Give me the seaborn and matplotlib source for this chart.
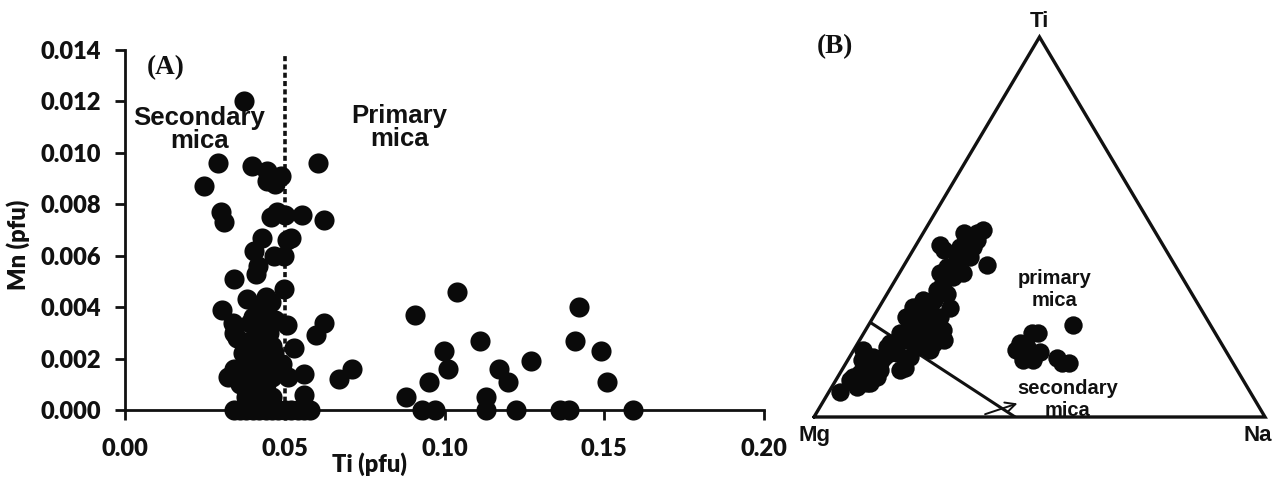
import numpy as np
import pandas as pd
import seaborn as sns
import matplotlib.pyplot as plt
from matplotlib.ticker import FormatStrFormatter

sns.set_theme(style='white')
plt.rcParams['font.family'] = ['Lato', 'DejaVu Sans']
plt.rcParams['font.weight'] = 'bold'

# panel A: Ti vs Mn (pfu)
ti_pfu = [0.0372, 0.029, 0.0246, 0.0399, 0.0446, 0.0446, 0.0488, 0.0470, 0.0603, 0.030,
          0.031, 0.0477, 0.0456, 0.0500, 0.0555, 0.0622, 0.043, 0.0519, 0.0404, 0.0466,
          0.0508, 0.0497, 0.0341, 0.041, 0.0415, 0.0497, 0.0383, 0.0456, 0.044, 0.0305,
          0.0337, 0.034, 0.039, 0.0415, 0.0470, 0.0508, 0.0622, 0.0597, 0.0352, 0.041,
          0.0529, 0.037, 0.0383, 0.043, 0.0466, 0.0321, 0.034, 0.040, 0.042, 0.049,
          0.036, 0.047, 0.051, 0.056, 0.0669, 0.0711, 0.056, 0.042, 0.046, 0.038,
          0.044, 0.040, 0.045, 0.043, 0.046, 0.038, 0.040, 0.042, 0.044, 0.041,
          0.039, 0.044, 0.040, 0.042, 0.046, 0.037, 0.039, 0.043,
          0.034, 0.036, 0.038, 0.040, 0.042, 0.044, 0.046, 0.048, 0.050, 0.052,
          0.054, 0.056, 0.058,
          0.0909, 0.104, 0.142, 0.111, 0.141, 0.0997, 0.149, 0.127, 0.101, 0.117,
          0.120, 0.151, 0.095, 0.088, 0.113,
          0.093, 0.097, 0.113, 0.1225, 0.136, 0.139, 0.159]
mn_pfu = [0.0120, 0.0096, 0.0087, 0.0095, 0.0093, 0.0089, 0.0091, 0.0088, 0.0096, 0.0077,
          0.0073, 0.0077, 0.0075, 0.0076, 0.0076, 0.0074, 0.0067, 0.0067, 0.0062, 0.0060,
          0.0066, 0.0060, 0.0051, 0.0053, 0.0056, 0.0047, 0.0043, 0.0042, 0.0044, 0.0039,
          0.0034, 0.0030, 0.0034, 0.0032, 0.0035, 0.0033, 0.0034, 0.0029, 0.0028, 0.0027,
          0.0024, 0.0022, 0.0022, 0.0025, 0.0022, 0.0013, 0.0016, 0.0015, 0.0016, 0.0018,
          0.0010, 0.0017, 0.0013, 0.0014, 0.0012, 0.0016, 0.0006, 0.0007, 0.0005, 0.0005,
          0.0010, 0.0020, 0.0030, 0.0038, 0.0013, 0.0008, 0.0003, 0.0012, 0.0019, 0.0023,
          0.0027, 0.0028, 0.0036, 0.0041, 0.0025, 0.0017, 0.0012, 0.0003,
          0.0, 0.0, 0.0, 0.0, 0.0, 0.0, 0.0, 0.0, 0.0, 0.0,
          0.0, 0.0, 0.0,
          0.0037, 0.0046, 0.0040, 0.0027, 0.0027, 0.0023, 0.0023, 0.0019, 0.0016, 0.0016,
          0.0011, 0.0011, 0.0011, 0.0005, 0.0005,
          0.0, 0.0, 0.0, 0.0, 0.0, 0.0, 0.0]
ti_boundary = 0.05

# panel B: ternary Mg-Ti-Na (%), Mg = 100 - Ti - Na
tern_ti = [6.7, 8.0, 8.9, 11.5, 13.2, 12.4, 15.0, 15.9, 16.8, 12.4, 12.8, 18.5, 19.4, 20.3,
           22.0, 21.1, 22.9, 21.1, 20.3, 25.5, 25.5, 24.6, 26.4, 29.0, 30.8, 28.2, 26.4,
           22.9, 28.6, 33.4, 35.2, 37.8, 36.9, 37.8, 39.6, 41.3, 42.2, 44.8, 46.6, 48.3,
           49.2, 43.9, 45.3, 44.8, 40.0, 17.6, 18.5, 15.9, 8.9, 14.1, 16.8, 10.6, 9.7,
           10.6, 17.6, 27.3, 30.8, 32.5, 22.9, 22.0, 19.4, 15.9, 46.6, 48.3, 43.1, 24.6,
           21.1, 19.4,
           22.0, 22.0, 19.4, 17.6, 16.8, 15.9, 17.2, 15.0, 15.0, 15.4, 14.1, 14.1, 24.2, 18.5]
tern_na = [2.5, 5.5, 7.2, 4.5, 5.8, 8.4, 3.1, 5.2, 8.5, 12.9, 13.8, 6.9, 8.6, 10.4,
           11.0, 13.7, 14.3, 16.7, 18.6, 10.0, 12.2, 14.9, 7.3, 7.5, 8.8, 11.6, 14.7,
           17.2, 15.9, 10.5, 11.1, 9.0, 12.4, 14.2, 9.6, 11.0, 13.5, 10.0, 10.6, 12.0,
           12.9, 6.8, 5.3, 12.9, 18.3, 16.9, 13.6, 13.3, 8.0, 7.6, 9.9, 3.4, 3.1,
           8.6, 2.1, 9.9, 11.1, 13.2, 9.9, 8.1, 7.2, 7.5, 12.8, 9.0, 12.3, 11.9,
           12.3, 16.8,
           37.3, 38.7, 36.0, 36.1, 38.0, 40.0, 41.5, 38.9, 41.1, 46.1, 47.9, 49.4, 45.4, 38.0]
vertex_ti = [0, 100, 0, 0]
vertex_na = [0, 0, 100, 0]
divider_ti = [24.8, 0.0]
divider_na = [0.2, 44.6]
arrow_ti = [0.5, 3.8]
arrow_na = [37.1, 43.8]


def tern_xy(ti, na):
    ti = np.asarray(ti, dtype=float) / 100
    na = np.asarray(na, dtype=float) / 100
    return na + ti / 2, ti * np.sqrt(3) / 2


fig = plt.figure(figsize=(12.72, 4.79), dpi=100)

# ---------- panel A
ax = fig.add_axes([125 / 1272, 69 / 479, 639 / 1272, 360 / 479])
df_a = pd.DataFrame({'Ti': ti_pfu, 'Mn': mn_pfu})
sns.scatterplot(data=df_a, x='Ti', y='Mn', ax=ax, color='#0a0a0a', s=210,
                edgecolor='#0a0a0a', linewidth=0, clip_on=False, zorder=3)
ax.plot([ti_boundary, ti_boundary], [0, 0.0139], color='#111111', lw=2.6,
        linestyle=(0, (1.4, 0.9)), zorder=2)
ax.set_xlim(0, 0.2)
ax.set_ylim(0, 0.014)
ax.set_xticks([0, 0.05, 0.10, 0.15, 0.20])
ax.set_yticks(np.arange(0, 0.0141, 0.002))
ax.xaxis.set_major_formatter(FormatStrFormatter('%.2f'))
ax.yaxis.set_major_formatter(FormatStrFormatter('%.3f'))
for side in ['top', 'right']:
    ax.spines[side].set_visible(False)
for side in ['left', 'bottom']:
    ax.spines[side].set_color('#111111')
    ax.spines[side].set_linewidth(2.0)
ax.tick_params(axis='both', which='major', direction='out', length=7, width=2,
               color='#111111', labelsize=17, labelcolor='#111111', bottom=True, left=True)
ax.tick_params(axis='x', pad=13)
ax.tick_params(axis='y', pad=10)
for lab in ax.get_xticklabels() + ax.get_yticklabels():
    lab.set_fontweight('heavy')
ax.set_xlabel('Ti (pfu)', fontsize=17, fontweight='heavy', color='#111111')
ax.set_ylabel('Mn (pfu)', fontsize=17, fontweight='heavy', color='#111111')
ax.xaxis.set_label_coords(0.383, -0.118)
ax.yaxis.set_label_coords(-0.148, 0.46)
ax.text(0.0128, 0.0133, '(A)', family='Liberation Serif', fontsize=19.5, fontweight='bold',
        ha='center', va='center', color='#111111')
ax.text(0.0232, 0.0109, 'Secondary\nmica', family='Liberation Sans', fontsize=18.5,
        fontweight='bold', ha='center', va='center', linespacing=0.95, color='#111111')
ax.text(0.0858, 0.0110, 'Primary\nmica', family='Liberation Sans', fontsize=18.5,
        fontweight='bold', ha='center', va='center', linespacing=0.95, color='#111111')

# ---------- panel B
bx = fig.add_axes([814 / 1272, 62 / 479, 451 / 1272, 380 / 479])
tx, ty = tern_xy(tern_ti, tern_na)
df_b = pd.DataFrame({'x': tx, 'y': ty})
sns.scatterplot(data=df_b, x='x', y='y', ax=bx, color='#0a0a0a', s=175,
                edgecolor='#0a0a0a', linewidth=0, zorder=3)
vx, vy = tern_xy(vertex_ti, vertex_na)
bx.plot(vx, vy, color='#111111', lw=2.4, solid_joinstyle='miter', clip_on=False)
dx, dy = tern_xy(divider_ti, divider_na)
bx.plot(dx, dy, color='#111111', lw=2.2)
ax_, ay_ = tern_xy(arrow_ti, arrow_na)
bx.annotate('', xy=(ax_[1], ay_[1]), xytext=(ax_[0], ay_[0]),
            arrowprops=dict(arrowstyle='->', color='#111111', lw=1.4,
                            mutation_scale=18))
bx.set_xlim(0, 1)
bx.set_ylim(0, np.sqrt(3) / 2)
bx.set_axis_off()
bx.text(0.5, 0.878, 'Ti', family='Liberation Sans', fontsize=16, fontweight='bold',
        ha='center', va='bottom', color='#111111')
bx.text(0.0, -0.018, 'Mg', family='Liberation Sans', fontsize=16, fontweight='bold',
        ha='center', va='top', color='#111111')
bx.text(0.985, -0.018, 'Na', family='Liberation Sans', fontsize=16, fontweight='bold',
        ha='center', va='top', color='#111111')
bx.text(0.047, 0.843, '(B)', family='Liberation Serif', fontsize=19.5, fontweight='bold',
        ha='center', va='center', color='#111111')
bx.text(0.534, 0.29, 'primary\nmica', family='Liberation Sans', fontsize=14.5,
        fontweight='bold', ha='center', va='center', color='#111111')
bx.text(0.563, 0.04, 'secondary\nmica', family='Liberation Sans', fontsize=14.5,
        fontweight='bold', ha='center', va='center', color='#111111')

fig.savefig('out.png', dpi=100, facecolor='white')
